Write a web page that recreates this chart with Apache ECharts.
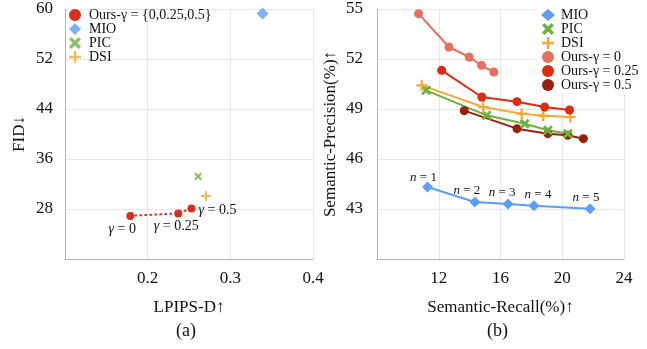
<!DOCTYPE html>
<html>
<head>
<meta charset="utf-8">
<script src="https://cdn.jsdelivr.net/npm/echarts@6/dist/echarts.min.js"></script>
<style>
  html, body { margin: 0; padding: 0; background: #fff; }
  #chart { width: 647px; height: 349px; }
</style>
</head>
<body>
<div id="chart"></div>
<script>
// (a) LPIPS-D vs FID
const lpipsTicks = [0.1, 0.4, 0.1]
const fidTicks = [20, 60, 8]
const mioA = [[0.339, 59.3]]
const picA = [[0.261, 33.2]]
const dsiA = [[0.2705, 30.1]]
const oursA = [[0.179, 26.9], [0.237, 27.3], [0.253, 28.1]]
const oursALabels = ['0', '0.25', '0.5']

// (b) Semantic-Recall vs Semantic-Precision
const recallTicks = [8, 24, 4]
const precTicks = [40, 55, 3]
const mioB = [[11.27, 44.32], [14.34, 43.42], [16.49, 43.3], [18.17, 43.2], [21.8, 43.02]]
const mioBLabels = ['1', '2', '3', '4', '5']
const picB = [[11.18, 50.12], [15.1, 48.62], [17.57, 48.12], [19.07, 47.72], [20.36, 47.52]]
const dsiB = [[10.9, 50.42], [14.88, 49.12], [17.37, 48.72], [18.77, 48.6], [20.52, 48.52]]
const ours0 = [[10.69, 54.72], [12.66, 52.72], [13.97, 52.12], [14.77, 51.62], [15.57, 51.22]]
const ours025 = [[12.19, 51.32], [14.79, 49.72], [17.07, 49.44], [18.86, 49.12], [20.47, 48.94]]
const ours05 = [[13.65, 48.9], [17.07, 47.82], [19.07, 47.52], [20.36, 47.42], [21.37, 47.22]]

const FONT = '"Liberation Serif", "Times New Roman", serif'
const C = {
  mio: '#5a9ef5',
  pic: '#6ab33c',
  dsi: '#f2a935',
  oursA: '#d8301f',
  ours0: '#e76f5d',
  ours025: '#e0290f',
  ours05: '#9b1e0a',
  grid: '#e6e6e6',
  axis: '#b3b3b3'
}
const X_SYM = 'path://M0,2 L2,0 L5,3 L8,0 L10,2 L7,5 L10,8 L8,10 L5,7 L2,10 L0,8 L3,5 Z'
const PLUS_SYM = 'path://M4,0 H6 V4 H10 V6 H6 V10 H4 V6 H0 V4 H4 Z'

function valueAxis(ticks, grid, name, gap) {
  return {
    type: 'value',
    gridIndex: grid,
    min: ticks[0],
    max: ticks[1],
    interval: ticks[2],
    name: name,
    nameLocation: 'middle',
    nameGap: gap,
    nameTextStyle: { fontFamily: FONT, fontSize: 17, color: '#111' },
    axisLine: { show: true, lineStyle: { color: C.axis, width: 1 } },
    axisTick: { show: false },
    axisLabel: { showMinLabel: false, fontFamily: FONT, fontSize: 17, color: '#111' },
    splitLine: { show: true, lineStyle: { color: C.grid, width: 1 } }
  }
}

const xA = valueAxis(lpipsTicks, 0, 'LPIPS-D↑', 40)
xA.axisLabel.margin = 11
xA.axisLabel.formatter = v => v.toFixed(1)
const yA = valueAxis(fidTicks, 0, 'FID↓', 37)
yA.axisLabel.margin = 12
const xB = valueAxis(recallTicks, 1, 'Semantic-Recall(%)↑', 40)
xB.axisLabel.margin = 11
const yB = valueAxis(precTicks, 1, 'Semantic-Precision(%)↑', 38)
yB.axisLabel.margin = 14

const gammaOffsets = [[-8, -2], [-2, -2], [26, -13]]
const nOffsets = [[-4, 8], [-8, 6], [-6, 6], [4, 6], [-4, 6]]

const legendText = { fontFamily: FONT, fontSize: 14, lineHeight: 14, color: '#111' }

const option = {
  animation: false,
  backgroundColor: '#fff',
  grid: [
    { left: 65, top: 9, width: 248, height: 250 },
    { left: 377, top: 9, width: 247, height: 250 }
  ],
  xAxis: [xA, xB],
  yAxis: [yA, yB],
  legend: [
    {
      left: 64, top: 8, orient: 'vertical', itemGap: 0, itemWidth: 12, itemHeight: 12,
      padding: [0, 4, 0, 5],
      textStyle: Object.assign({ padding: [0, 0, 0, 3] }, legendText),
      data: [
        { name: 'Ours-γ = {0,0.25,0.5}', icon: 'circle' },
        { name: 'MIO', icon: 'diamond' },
        { name: 'PIC', icon: X_SYM },
        { name: 'DSI', icon: PLUS_SYM }
      ]
    },
    {
      left: 537, top: 8, orient: 'vertical', itemGap: 0, itemWidth: 14, itemHeight: 12,
      backgroundColor: '#fff', padding: [0, 6, 2, 4],
      textStyle: Object.assign({ padding: [0, 0, 0, 1] }, legendText),
      data: [
        { name: 'MIO ', icon: 'diamond' },
        { name: 'PIC ', icon: X_SYM },
        { name: 'DSI ', icon: PLUS_SYM },
        { name: 'Ours-γ = 0', icon: 'circle' },
        { name: 'Ours-γ = 0.25', icon: 'circle' },
        { name: 'Ours-γ = 0.5', icon: 'circle' }
      ]
    }
  ],
  graphic: [
    { type: 'text', left: 176, top: 322, style: { text: '(a)', font: '18px ' + FONT, fill: '#111' } },
    { type: 'text', left: 487, top: 322, style: { text: '(b)', font: '18px ' + FONT, fill: '#111' } }
  ],
  series: [
    // (a)
    {
      name: 'Ours-γ = {0,0.25,0.5}', type: 'line', xAxisIndex: 0, yAxisIndex: 0,
      data: oursA.map((p, i) => ({
        value: p,
        label: {
          show: true, position: 'bottom', distance: 4, offset: gammaOffsets[i],
          formatter: '{g|γ} = ' + oursALabels[i]
        }
      })),
      symbol: 'circle', symbolSize: 8, color: C.oursA,
      lineStyle: { color: C.oursA, width: 2, type: [1, 4], cap: 'round' },
      label: {
        fontFamily: FONT, fontSize: 14, color: '#111',
        rich: { g: { fontFamily: FONT, fontSize: 14, fontStyle: 'italic', color: '#111' } }
      },
      z: 3
    },
    {
      name: 'MIO', type: 'scatter', xAxisIndex: 0, yAxisIndex: 0, data: mioA,
      symbol: 'diamond', symbolSize: 12, color: C.mio
    },
    {
      name: 'PIC', type: 'scatter', xAxisIndex: 0, yAxisIndex: 0, data: picA,
      symbol: X_SYM, symbolSize: 8, color: C.pic
    },
    {
      name: 'DSI', type: 'scatter', xAxisIndex: 0, yAxisIndex: 0, data: dsiA,
      symbol: PLUS_SYM, symbolSize: 10, color: C.dsi
    },
    // (b)
    {
      name: 'MIO ', type: 'line', xAxisIndex: 1, yAxisIndex: 1,
      data: mioB.map((p, i) => ({
        value: p,
        label: { show: true, position: 'top', distance: 5, offset: nOffsets[i], formatter: '{n|n} = ' + mioBLabels[i] }
      })),
      symbol: 'diamond', symbolSize: 11, color: C.mio,
      lineStyle: { color: C.mio, width: 2 },
      label: {
        fontFamily: FONT, fontSize: 13, color: '#111',
        rich: { n: { fontFamily: FONT, fontSize: 13, fontStyle: 'italic', color: '#111' } }
      }
    },
    {
      name: 'Ours-γ = 0.5', type: 'line', xAxisIndex: 1, yAxisIndex: 1, data: ours05,
      symbol: 'circle', symbolSize: 9, color: C.ours05, lineStyle: { color: C.ours05, width: 2 }
    },
    {
      name: 'PIC ', type: 'line', xAxisIndex: 1, yAxisIndex: 1, data: picB,
      symbol: X_SYM, symbolSize: 10, color: C.pic, lineStyle: { color: C.pic, width: 2 }
    },
    {
      name: 'DSI ', type: 'line', xAxisIndex: 1, yAxisIndex: 1, data: dsiB,
      symbol: PLUS_SYM, symbolSize: 11, color: C.dsi, lineStyle: { color: C.dsi, width: 2 }
    },
    {
      name: 'Ours-γ = 0.25', type: 'line', xAxisIndex: 1, yAxisIndex: 1, data: ours025,
      symbol: 'circle', symbolSize: 9, color: C.ours025, lineStyle: { color: C.ours025, width: 2 }
    },
    {
      name: 'Ours-γ = 0', type: 'line', xAxisIndex: 1, yAxisIndex: 1, data: ours0,
      symbol: 'circle', symbolSize: 9, color: C.ours0, lineStyle: { color: C.ours0, width: 2 }
    }
  ]
}

echarts.init(document.getElementById('chart'), null, { renderer: 'canvas' }).setOption(option)
</script>
</body>
</html>
